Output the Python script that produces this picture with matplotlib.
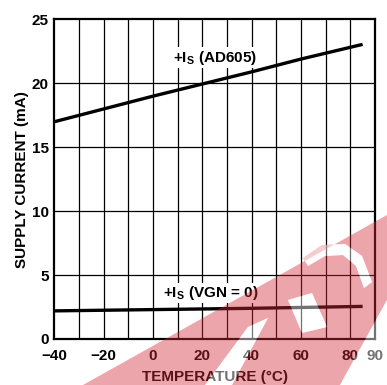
import matplotlib
matplotlib.use("Agg")
import numpy as np
import matplotlib.pyplot as plt
from matplotlib.path import Path
from matplotlib.patches import PathPatch

# data
temp_ad605 = [-40, -20, 0, 20, 40, 60, 85]
is_ad605 = [17.0, 18.0, 19.0, 19.95, 20.9, 21.9, 23.05]
temp_vgn0 = [-40, 0, 40, 85]
is_vgn0 = [2.2, 2.3, 2.4, 2.55]

xticks = [-40, -20, 0, 20, 40, 60, 80, 90]
xtick_labels = ["\u221240", "\u221220", "0", "20", "40", "60", "80", "90"]
yticks = [0, 5, 10, 15, 20, 25]

plt.rcParams['font.family'] = ['Liberation Sans', 'DejaVu Sans']
plt.rcParams['font.weight'] = 'bold'
plt.rcParams['mathtext.fontset'] = 'custom'
plt.rcParams['mathtext.rm'] = 'Liberation Sans:bold'
plt.rcParams['mathtext.bf'] = 'Liberation Sans:bold'

fig = plt.figure(figsize=(3.87, 3.85), dpi=100)
ax = fig.add_axes([0.1408, 0.1195, 0.828, 0.830])

# grid
for x in range(-30, 90, 10):
    ax.axvline(x, color='k', lw=0.9, zorder=1)
for y in yticks[1:-1]:
    ax.axhline(y, color='k', lw=0.9, zorder=1)

ax.plot(temp_ad605, is_ad605, color='k', lw=2.4, solid_capstyle='butt', zorder=3)
ax.plot(temp_vgn0, is_vgn0, color='k', lw=2.4, solid_capstyle='butt', zorder=3)

box = dict(facecolor='white', edgecolor='none', pad=1.0)
ax.text(25, 22.0, r"+I$_\mathbf{S}$ (AD605)", ha='center', va='center',
        fontsize=11, fontweight='bold', bbox=box, zorder=4)
ax.text(23.5, 3.6, r"+I$_\mathbf{S}$ (VGN = 0)", ha='center', va='center',
        fontsize=11, fontweight='bold', bbox=box, zorder=4)

ax.set_xlim(-40, 90)
ax.set_ylim(0, 25)
ax.set_xticks(xticks)
ax.set_xticklabels(xtick_labels)
ax.set_yticks(yticks)
ax.tick_params(axis='y', length=0, labelsize=11, pad=4)
ax.tick_params(axis='x', length=0, labelsize=11, pad=7)
for lab in ax.get_xticklabels() + ax.get_yticklabels():
    lab.set_fontweight('bold')
for s in ax.spines.values():
    s.set_linewidth(1.6)

ax.set_xlabel("TEMPERATURE (\u00b0C)", fontsize=11, fontweight='bold', labelpad=5)
ax.set_ylabel("SUPPLY CURRENT (mA)", fontsize=11, fontweight='bold', labelpad=2)

# red watermark over the lower right (rough copy, pixel coords from top-left)
W, H = 387, 385


def to_fig(pts, ccw):
    p = np.array([(x / W, 1 - y / H) for x, y in pts])
    area = 0.5 * np.sum(p[:, 0] * np.roll(p[:, 1], -1) - np.roll(p[:, 0], -1) * p[:, 1])
    if (area > 0) != ccw:
        p = p[::-1]
    return p


def compound(outer, holes):
    verts, codes = [], []
    for i, ring in enumerate([outer] + holes):
        p = to_fig(ring, ccw=(i == 0))
        verts += list(p) + [p[0]]
        codes += [Path.MOVETO] + [Path.LINETO] * (len(p) - 1) + [Path.CLOSEPOLY]
    return Path(verts, codes)


outer = [(83, 385), (387, 215), (387, 300), (340, 385)]
holes = [
    [(248, 327), (268, 318), (232, 385), (205, 385)],
    [(288, 300), (312, 293), (327, 327), (302, 333)],
    [(303, 258), (322, 245), (345, 244), (362, 256), (372, 282),
     (364, 288), (356, 266), (343, 255), (325, 256), (308, 266)],
]
fig.patches.append(PathPatch(compound(outer, holes), transform=fig.transFigure,
                             facecolor='#d42a36', edgecolor='none', alpha=0.42, zorder=10))
for h in holes + [[(340, 385), (387, 300), (387, 385)]]:
    fig.patches.append(PathPatch(compound(h, []), transform=fig.transFigure,
                                 facecolor='white', edgecolor='none', alpha=0.45, zorder=10))

fig.savefig("out.png", dpi=100)
